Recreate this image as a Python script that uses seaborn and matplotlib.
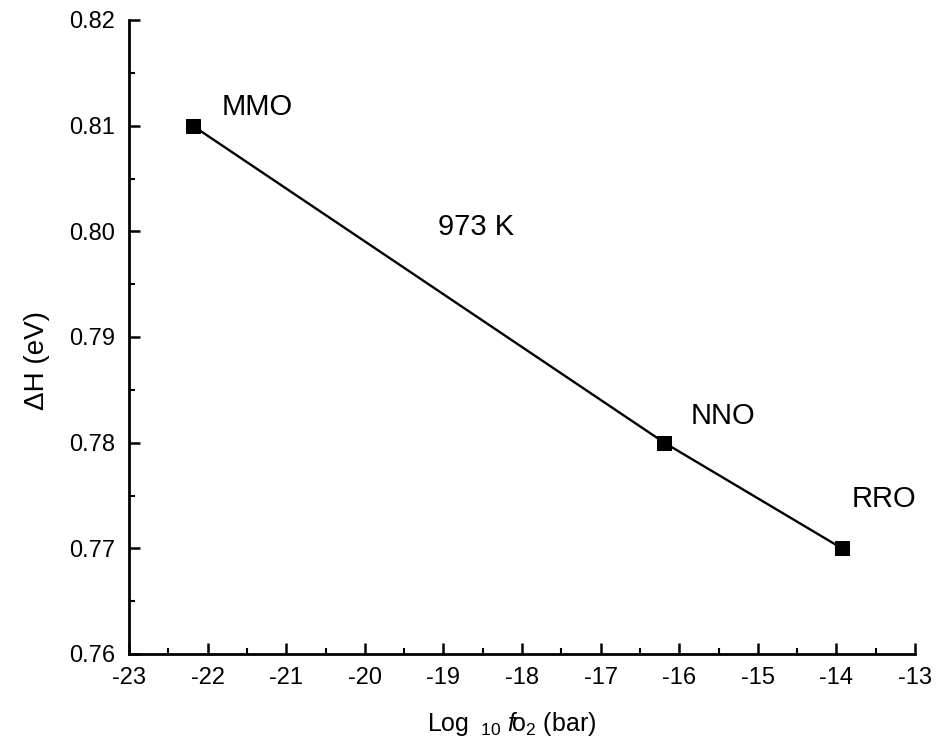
import matplotlib
matplotlib.use("Agg")
import matplotlib.pyplot as plt
import seaborn as sns
import pandas as pd
from matplotlib.ticker import MultipleLocator

buffers = ["MMO", "NNO", "RRO"]
log_fo2 = [-22.19, -16.19, -13.93]
delta_h = [0.81, 0.78, 0.77]
xticks = [-23, -22, -21, -20, -19, -18, -17, -16, -15, -14, -13]
yticks = [0.76, 0.77, 0.78, 0.79, 0.80, 0.81, 0.82]
ytick_labels = ["0.76", "0.77", "0.78", "0.79", "0.80", "0.81", "0.82"]
label_pos_x = [-21.82, -15.86, -13.80]
label_pos_y = [0.8118, 0.7825, 0.7747]
temp_label = "973 K"

sns.set_style("ticks")
plt.rcParams["font.family"] = ["Liberation Sans", "DejaVu Sans"]
plt.rcParams["mathtext.fontset"] = "custom"
plt.rcParams["mathtext.rm"] = "Liberation Sans"
plt.rcParams["mathtext.it"] = "Liberation Sans:italic"
plt.rcParams["text.color"] = "black"
plt.rcParams["axes.labelcolor"] = "black"

df = pd.DataFrame({"x": log_fo2, "y": delta_h, "buffer": buffers})

fig = plt.figure(figsize=(9.36, 7.52), dpi=100)
ax = fig.add_axes([129/936, 1-654/752, (915-129)/936, (654-20)/752])

sns.lineplot(data=df, x="x", y="y", ax=ax, color="black", lw=1.7,
             marker="s", markersize=9.5, markeredgecolor="black",
             markerfacecolor="black", sort=False)

for name, tx, ty in zip(buffers, label_pos_x, label_pos_y):
    ax.text(tx, ty, name, fontsize=21, va="center", ha="left", color="black")
ax.text(-19.07, 0.8004, temp_label, fontsize=21, va="center", ha="left", color="black")

ax.set_xlim(-23, -13)
ax.set_ylim(0.76, 0.82)
ax.set_xticks(xticks)
ax.set_xticklabels([str(t) for t in xticks])
ax.set_yticks(yticks)
ax.set_yticklabels(ytick_labels)
ax.xaxis.set_minor_locator(MultipleLocator(0.5))
ax.yaxis.set_minor_locator(MultipleLocator(0.005))

for s in ["top", "right"]:
    ax.spines[s].set_visible(False)
for s in ["left", "bottom"]:
    ax.spines[s].set_linewidth(2.0)
    ax.spines[s].set_color("black")

ax.tick_params(axis="both", which="major", direction="in", length=8, width=1.8,
               labelsize=17, colors="black", labelcolor="black")
ax.tick_params(axis="both", which="minor", direction="in", length=4.5, width=1.5,
               colors="black")
ax.tick_params(axis="y", which="major", pad=10)
ax.tick_params(axis="x", which="major", pad=9)

ax.set_xlabel(r"Log $_{\ 10}$ $f\!$o$_2$ (bar)", fontsize=18, color="black")
ax.set_ylabel(r"ΔH (eV)", fontsize=20, color="black")
ax.xaxis.set_label_coords((512 - 129) / 786, -(710 - 654) / 634)
ax.yaxis.set_label_coords(-(129 - 50) / 786, (654 - 360) / 634)

fig.savefig("out.png", dpi=100)
